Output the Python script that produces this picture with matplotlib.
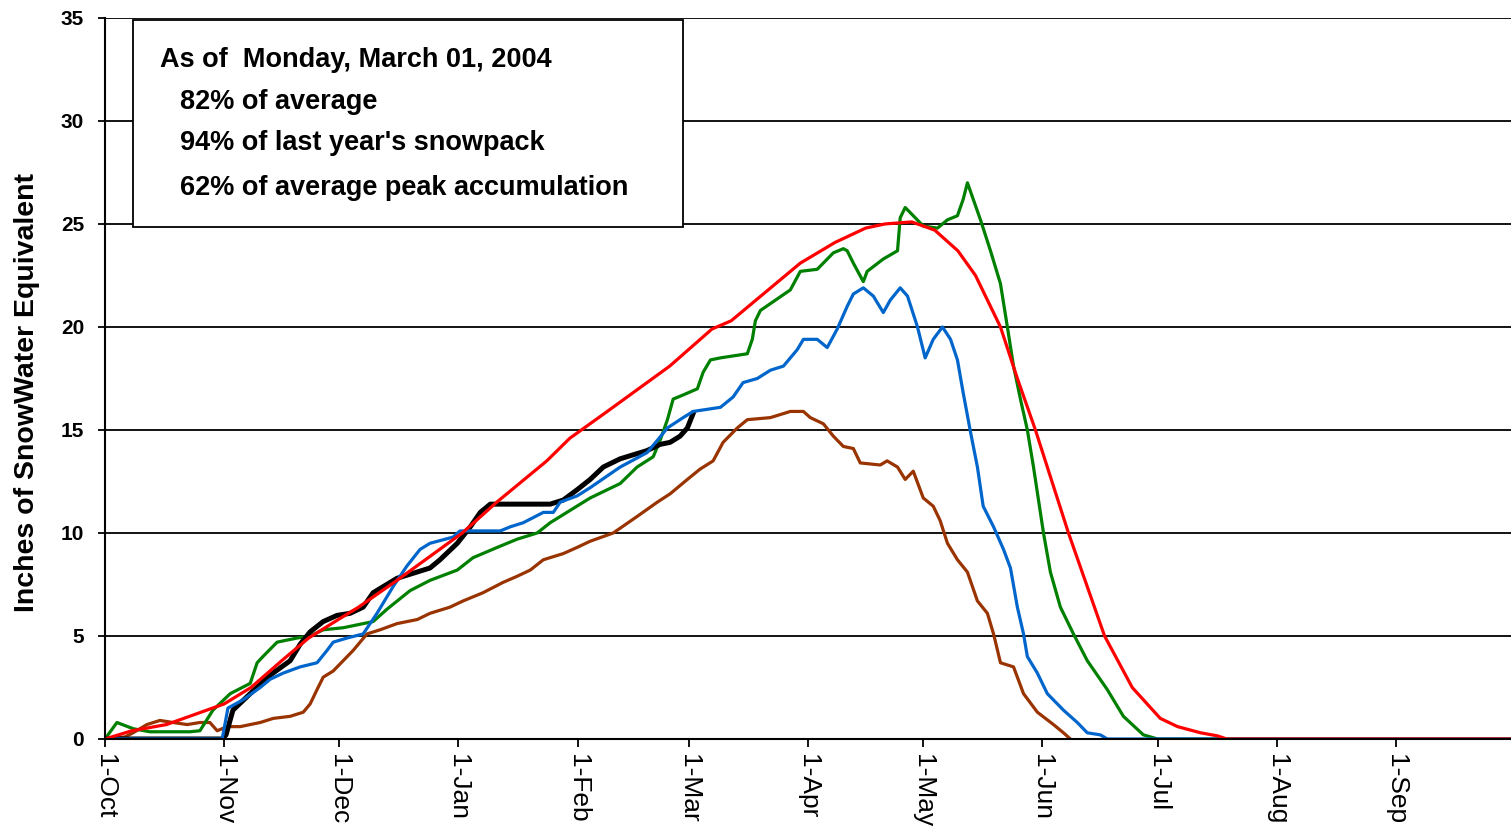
import numpy as np
import matplotlib.pyplot as plt
from matplotlib.patches import Rectangle

plt.rcParams['font.family'] = ['Liberation Sans', 'DejaVu Sans']

# day of water year (0 = 1-Oct) and snow water equivalent in inches
avg_day = [0, 7, 16, 25, 31, 38, 46, 53, 59, 66, 76, 93, 102, 115, 121, 130, 147, 158, 163,
           181, 190, 198, 203, 210, 216, 222, 226.6, 233.1, 237.5, 242.2, 246.5, 250.8,
           255.5, 260.2, 267.4, 274.7, 279.2, 285.2, 289.6, 292, 366]
avg_swe = [0, 0.4, 0.7, 1.3, 1.7, 2.5, 3.8, 4.9, 5.6, 6.4, 7.7, 10.0, 11.5, 13.5, 14.6, 15.8,
           18.1, 19.9, 20.3, 23.1, 24.1, 24.8, 25.0, 25.1, 24.7, 23.7, 22.5, 20.0, 17.5, 15.0,
           12.5, 10.0, 7.5, 5.0, 2.5, 1.0, 0.6, 0.3, 0.15, 0, 0]

wy2004_day = [0, 30.5, 31.5, 33.3, 37.8, 43, 48.2, 50.8, 53.4, 56.8, 60.4, 63.8, 67.2, 69.8,
              76, 84.6, 87.2, 91.7, 95.1, 97.7, 100.3, 115.9, 119.3, 122.9, 126.3, 129.7,
              134.1, 141.1, 144.5, 147.1, 149.7, 151.6, 153.1]
wy2004_swe = [0, 0, 0.2, 1.4, 2.2, 3.1, 3.8, 4.6, 5.2, 5.7, 6.0, 6.1, 6.4, 7.1, 7.8, 8.3, 8.7,
              9.5, 10.3, 11.0, 11.4, 11.4, 11.6, 12.1, 12.6, 13.2, 13.6, 14.0, 14.3, 14.4,
              14.7, 15.1, 15.8]

green_day = [0, 3.1, 7.3, 11.7, 22.1, 24.7, 28.1, 32.6, 37.8, 39.6, 41.1, 44.8, 50, 53.4,
             56.8, 62, 69.8, 73.4, 79.4, 84.6, 91.7, 95.8, 102.1, 107.3, 112.5, 115.9, 121.1,
             126.3, 134.1, 138.5, 142.7, 144.5, 146.4, 147.9, 150.5, 154.2, 155.7, 157.6,
             160.2, 167.2, 168.5, 169.3, 170.6, 174.5, 178.4, 181, 185.4, 189.6, 192.2, 193.2,
             194.8, 197.4, 198.4, 202.6, 206.3, 207, 208.3, 210.4, 213, 216.7, 219.3, 221.9,
             223.4, 224.5, 227.9, 230.5, 233.1, 234.9, 236.5, 238.3, 240.1, 241.7, 244.3,
             246.1, 248.7, 252.1, 255.7, 260.9, 265.1, 270.3, 274, 366]
green_swe = [0, 0.8, 0.5, 0.35, 0.35, 0.4, 1.4, 2.2, 2.7, 3.7, 4.0, 4.7, 4.9, 5.0, 5.3, 5.4,
             5.7, 6.3, 7.2, 7.7, 8.2, 8.8, 9.3, 9.7, 10.0, 10.5, 11.1, 11.7, 12.4, 13.2, 13.7,
             14.5, 15.5, 16.5, 16.7, 17.0, 17.8, 18.4, 18.5, 18.7, 19.4, 20.3, 20.8, 21.3,
             21.8, 22.7, 22.8, 23.6, 23.8, 23.7, 23.1, 22.2, 22.7, 23.3, 23.7, 25.3, 25.8,
             25.4, 24.9, 24.8, 25.2, 25.4, 26.2, 27.0, 25.2, 23.7, 22.1, 20.0, 18.1, 16.5,
             15.0, 13.2, 10.0, 8.1, 6.4, 5.1, 3.8, 2.4, 1.1, 0.2, 0, 0]

blue_day = [0, 30.5, 32, 35.9, 40.4, 43, 46.4, 50.8, 55.2, 57.8, 59.4, 63, 67.2, 70.8, 75,
            78.6, 82, 84.6, 90.6, 92.4, 102.9, 105.5, 108.9, 114.1, 116.7, 118.5, 122.9,
            126.3, 134.1, 141.1, 143.8, 146.4, 150.5, 153.1, 160.2, 163.5, 166.1, 169.8,
            173.2, 176.6, 180.2, 181.8, 185.4, 188, 190.6, 193.2, 194.8, 197.4, 200, 202.6,
            204.4, 207, 208.9, 211.5, 213.5, 215.6, 218, 220.1, 221.9, 223.4, 225.3, 227.1,
            228.6, 231.3, 233.9, 235.7, 237.5, 239.1, 240.1, 242.7, 245.3, 249.5, 253.1,
            255.7, 259.1, 260.9, 366]
blue_swe = [0, 0, 1.5, 1.9, 2.5, 2.9, 3.2, 3.5, 3.7, 4.3, 4.7, 4.9, 5.1, 6.1, 7.4, 8.4, 9.2,
            9.5, 9.8, 10.1, 10.1, 10.3, 10.5, 11.0, 11.0, 11.5, 11.8, 12.2, 13.2, 13.9, 14.5,
            15.1, 15.6, 15.9, 16.1, 16.6, 17.3, 17.5, 17.9, 18.1, 18.9, 19.4, 19.4, 19.0,
            19.9, 21.0, 21.6, 21.9, 21.5, 20.7, 21.3, 21.9, 21.5, 20.0, 18.5, 19.4, 20.0,
            19.4, 18.4, 16.8, 14.9, 13.2, 11.3, 10.3, 9.2, 8.3, 6.4, 5.1, 4.0, 3.2, 2.2, 1.4,
            0.8, 0.3, 0.2, 0, 0]

brown_day = [0, 5.2, 7.3, 10.9, 14.3, 17.7, 21.4, 24.7, 27.3, 29.2, 31.8, 35.2, 40.4, 43.8,
             48.2, 51.6, 53.4, 55.2, 56.8, 59.4, 62, 64.6, 68.2, 71.6, 76, 81.3, 84.6, 89.8,
             93.2, 98.4, 103.6, 107.3, 110.7, 114.1, 119.3, 122.9, 126.3, 132.3, 138.5,
             143.8, 147.1, 151.6, 154.9, 158.3, 160.9, 164.6, 167.2, 173.2, 178.4, 181.8,
             183.6, 187, 189.6, 192.2, 194.8, 196.6, 201.8, 203.6, 206.3, 208.3, 210.4, 213,
             215.6, 217.4, 219.3, 221.9, 224.5, 227.1, 229.7, 231.3, 233.1, 236.5, 239.1,
             242.7, 246.9, 249.5, 251.3]
brown_swe = [0, 0.1, 0.3, 0.7, 0.9, 0.8, 0.7, 0.8, 0.8, 0.4, 0.6, 0.6, 0.8, 1.0, 1.1, 1.3,
             1.7, 2.4, 3.0, 3.3, 3.8, 4.3, 5.1, 5.3, 5.6, 5.8, 6.1, 6.4, 6.7, 7.1, 7.6, 7.9,
             8.2, 8.7, 9.0, 9.3, 9.6, 10.0, 10.8, 11.5, 11.9, 12.6, 13.1, 13.5, 14.4, 15.1,
             15.5, 15.6, 15.9, 15.9, 15.6, 15.3, 14.7, 14.2, 14.1, 13.4, 13.3, 13.5, 13.2,
             12.6, 13.0, 11.7, 11.3, 10.6, 9.5, 8.7, 8.1, 6.7, 6.1, 5.1, 3.7, 3.5, 2.2, 1.3,
             0.7, 0.3, 0]

month_day = [0, 31, 61, 92, 123, 152, 183, 213, 244, 274, 305, 336]
month_lbl = ['1-Oct', '1-Nov', '1-Dec', '1-Jan', '1-Feb', '1-Mar', '1-Apr', '1-May',
             '1-Jun', '1-Jul', '1-Aug', '1-Sep']

notes = ['As of  Monday, March 01, 2004',
         '82% of average',
         "94% of last year's snowpack",
         '62% of average peak accumulation']

fig = plt.figure(figsize=(15.11, 8.32), dpi=100)
ax = fig.add_axes([0.0695, 0.1118, 0.9305, 0.8666])

ax.plot(brown_day, brown_swe, color='#993300', lw=2.3, zorder=3)
ax.plot(green_day, green_swe, color='#008000', lw=2.3, zorder=3)
ax.plot(wy2004_day, wy2004_swe, color='black', lw=3.6, zorder=4)
ax.plot(blue_day, blue_swe, color='#0066CC', lw=2.3, zorder=5)
ax.plot(avg_day, avg_swe, color='#FF0000', lw=2.3, zorder=6)

ax.set_xlim(0, 366)
ax.set_ylim(0, 35)
ax.set_yticks(np.arange(0, 36, 5))
ax.yaxis.grid(True, color='black', lw=1.3)
ax.set_axisbelow(True)
ax.set_xticks(month_day)
ax.set_xticklabels(month_lbl, rotation=270, fontsize=19, va='top', ha='center')
for lbl in ax.get_yticklabels():
    lbl.set_fontweight('bold')
    lbl.set_fontsize(15)
ax.tick_params(axis='y', length=5, width=1.3, pad=10)
ax.tick_params(axis='x', length=6, width=1.3, pad=5)
for s in ['top', 'right']:
    ax.spines[s].set_visible(False)
for s in ['left', 'bottom']:
    ax.spines[s].set_linewidth(1.5)
    ax.spines[s].set_zorder(7)
ax.set_ylabel('Inches of SnowWater Equivalent', fontsize=20.5, fontweight='bold')
ax.yaxis.set_label_coords(-0.046, 0.48)

# info box
ax.add_patch(Rectangle((0.0199, 0.71), 0.391, 0.287, transform=ax.transAxes,
                       facecolor='white', edgecolor='black', lw=1.3, zorder=8))
ax.text(0.039, 0.942, notes[0], transform=ax.transAxes, fontsize=19.5, fontweight='bold',
        va='center', zorder=9)
for y, t in zip([0.883, 0.827, 0.764], notes[1:]):
    ax.text(0.0533, y, t, transform=ax.transAxes, fontsize=19.5, fontweight='bold',
            va='center', zorder=9)

fig.savefig('out.png', dpi=100, facecolor='white')
